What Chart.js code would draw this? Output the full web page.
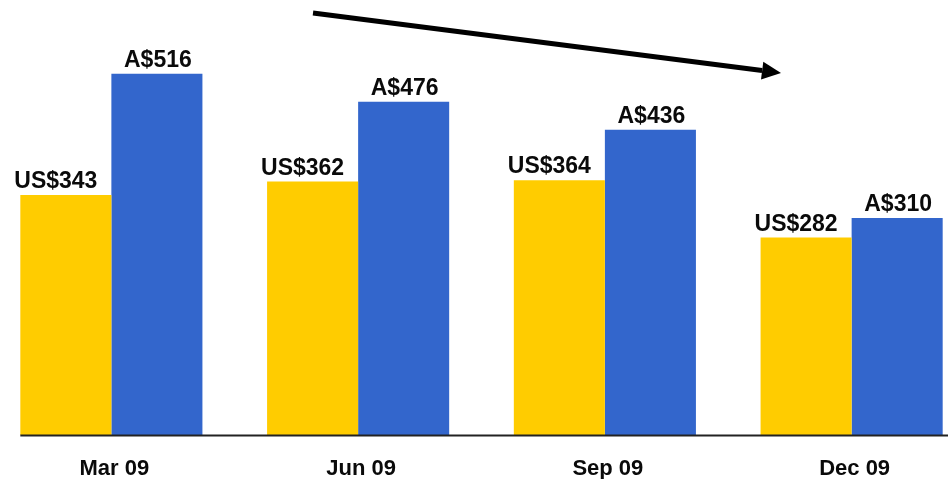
<!DOCTYPE html>
<html>
<head>
<meta charset="utf-8">
<script src="https://cdn.jsdelivr.net/npm/chart.js@4/dist/chart.umd.min.js"></script>
<style>
  html, body { margin: 0; padding: 0; background: #ffffff; overflow: hidden; width: 948px; height: 479px; }
  #wrap { position: absolute; left: -12px; top: 0; width: 987px; height: 479px; }
  canvas { display: block; }
</style>
</head>
<body>
<div id="wrap"><canvas id="c" width="987" height="479"></canvas></div>
<script>
// ---- data ----
const categories = ["Mar 09", "Jun 09", "Sep 09", "Dec 09"];
const usValues = [343, 362, 364, 282];
const audValues = [516, 476, 436, 310];
const usPrefix = "US$";
const audPrefix = "A$";

const labelFont = "bold 23px 'Liberation Sans', Arial, sans-serif";

const valueLabels = {
  id: "valueLabels",
  afterDatasetsDraw(chart) {
    const ctx = chart.ctx;
    ctx.save();
    ctx.font = labelFont;
    ctx.fillStyle = "#0a0a0a";
    ctx.textAlign = "center";
    ctx.textBaseline = "alphabetic";
    chart.data.datasets.forEach((ds, di) => {
      const meta = chart.getDatasetMeta(di);
      meta.data.forEach((bar, i) => {
        const dx = di === 0 ? -10 : 1;
        ctx.fillText(ds.prefix + ds.data[i], bar.x + dx, bar.y - 7);
      });
    });
    // baseline
    const first = chart.getDatasetMeta(0).data[0];
    const yb = chart.scales.y.getPixelForValue(0);
    ctx.strokeStyle = "#222222";
    ctx.lineWidth = 2;
    ctx.beginPath();
    ctx.moveTo(first.x - first.width / 2, yb + 0.5);
    ctx.lineTo(chart.width, yb + 0.5);
    ctx.stroke();
    ctx.restore();
  }
};

const trendArrow = {
  id: "trendArrow",
  afterDraw(chart) {
    const ctx = chart.ctx;
    const off = 12;
    const x1 = 313 + off, y1 = 13, x2 = 781 + off, y2 = 73;
    const ang = Math.atan2(y2 - y1, x2 - x1);
    const hl = 19, hw = 9;
    const bx = x2 - hl * Math.cos(ang), by = y2 - hl * Math.sin(ang);
    ctx.save();
    ctx.strokeStyle = "#000";
    ctx.fillStyle = "#000";
    ctx.lineWidth = 5;
    ctx.beginPath();
    ctx.moveTo(x1, y1);
    ctx.lineTo(bx, by);
    ctx.stroke();
    ctx.beginPath();
    ctx.moveTo(x2, y2);
    ctx.lineTo(bx + hw * Math.sin(ang), by - hw * Math.cos(ang));
    ctx.lineTo(bx - hw * Math.sin(ang), by + hw * Math.cos(ang));
    ctx.closePath();
    ctx.fill();
    ctx.restore();
  }
};

new Chart(document.getElementById("c"), {
  type: "bar",
  data: {
    labels: categories,
    datasets: [
      { label: "US$", prefix: usPrefix, data: usValues, backgroundColor: "#FFCC00", borderWidth: 0,
        categoryPercentage: 0.738, barPercentage: 1.0 },
      { label: "A$", prefix: audPrefix, data: audValues, backgroundColor: "#3366CC", borderWidth: 0,
        categoryPercentage: 0.738, barPercentage: 1.0 }
    ]
  },
  options: {
    responsive: false,
    animation: false,
    layout: { padding: { top: 1, left: 0, right: 0, bottom: 0 } },
    plugins: { legend: { display: false }, tooltip: { enabled: false } },
    scales: {
      x: {
        grid: { display: false, drawTicks: false, tickLength: 0 },
        border: { display: false },
        ticks: {
          color: "#0a0a0a",
          padding: 21,
          labelOffset: 3,
          font: { family: "'Liberation Sans', Arial, sans-serif", size: 22, weight: "bold" }
        },
        afterFit(scale) { scale.height = 44; }
      },
      y: {
        display: false,
        min: 0,
        max: 620
      }
    }
  },
  plugins: [valueLabels, trendArrow]
});
</script>
</body>
</html>
